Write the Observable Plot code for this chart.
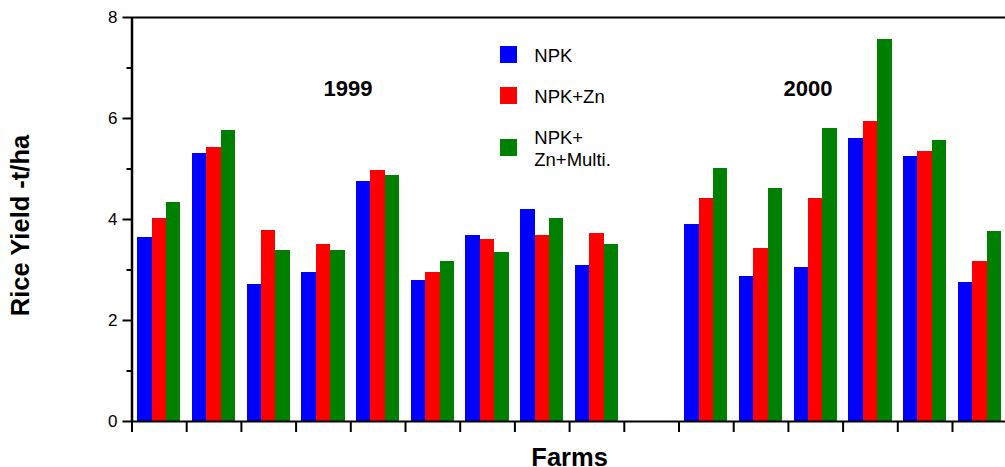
<!DOCTYPE html>
<html>
<head>
<meta charset="utf-8">
<script src="https://cdn.jsdelivr.net/npm/d3@7"></script>
<script src="https://cdn.jsdelivr.net/npm/@observablehq/plot@0.6"></script>
<style>
  html, body { margin: 0; padding: 0; background: #fff; overflow: hidden; }
  #chart { position: relative; width: 1005px; height: 467px; }
  #chart svg { display: block; }
  .legend {
    position: absolute; left: 500px; top: 43.2px;
    display: flex; flex-direction: column; gap: 18.4px;
    font-family: "Liberation Sans", Arial, sans-serif; font-size: 18.5px; color: #000;
  }
  .legend .row { display: flex; align-items: center; }
  .legend .sw { width: 16.7px; height: 16.7px; margin-right: 17.6px; flex: none; }
  .legend .lab { line-height: 22.5px; white-space: pre-line; position: relative; top: 1.7px; }
</style>
</head>
<body>
<div id="chart"></div>
<script>
// Treatments (legend order) and their fill colours
const series = ["NPK", "NPK+Zn", "NPK+\nZn+Multi."];
const seriesColors = ["#0000ff", "#ff0000", "#008000"];

// Farms surveyed in each season
const farms1999 = ["F1", "F2", "F3", "F4", "F5", "F6", "F7", "F8", "F9"];
const farms2000 = ["F1", "F2", "F3", "F4", "F5", "F6"];

// Rice yield (t/ha) per farm, 1999 season
const npk1999        = [3.64, 5.31, 2.71, 2.95, 4.75, 2.79, 3.68, 4.20, 3.09];
const npkZn1999      = [4.02, 5.43, 3.78, 3.50, 4.97, 2.95, 3.60, 3.68, 3.72];
const npkZnMulti1999 = [4.34, 5.76, 3.39, 3.39, 4.87, 3.17, 3.35, 4.02, 3.50];

// Rice yield (t/ha) per farm, 2000 season
const npk2000        = [3.90, 2.87, 3.05, 5.60, 5.25, 2.75];
const npkZn2000      = [4.42, 3.43, 4.42, 5.94, 5.35, 3.17];
const npkZnMulti2000 = [5.01, 4.61, 5.80, 7.56, 5.56, 3.76];

// Axis ticks
const yTicks = [0, 2, 4, 6, 8];
const yMinorTicks = [1, 3, 5, 7];

// Season headings
const years = ["1999", "2000"];

// One slot per farm along x, with an empty slot separating the two seasons
const slotCount = farms1999.length + 1 + farms2000.length;
const rows = [];
function addSeason(year, farms, valuesBySeries, firstSlot) {
  farms.forEach((farm, i) => {
    valuesBySeries.forEach((values, k) => {
      rows.push({year, farm, slot: firstSlot + i, k, series: series[k], value: values[i]});
    });
  });
}
addSeason(years[0], farms1999, [npk1999, npkZn1999, npkZnMulti1999], 0);
addSeason(years[1], farms2000, [npk2000, npkZn2000, npkZnMulti2000], farms1999.length + 1);

// Three adjacent bars per farm slot, with a little space on either side
const pad = 0.105;
const barW = (1 - 2 * pad) / 3;

// Season headings placed in data space above their farms
const yearLabels = [
  {x: 3.95, y: 6.58, text: years[0]},
  {x: 12.36, y: 6.58, text: years[1]}
];

const font = "'Liberation Sans', Arial, Helvetica, sans-serif";

const chart = Plot.plot({
  width: 1005,
  height: 467,
  marginTop: 17,
  marginBottom: 46,
  marginLeft: 131.5,
  marginRight: -1.7,
  x: {domain: [0, slotCount], axis: null},
  y: {domain: [0, 8], axis: null},
  color: {domain: series, range: seriesColors},
  style: {fontFamily: font, fontSize: "16px", color: "#000", background: "#fff", overflow: "hidden"},
  marks: [
    Plot.rectY(rows, {
      x1: d => d.slot + pad + d.k * barW,
      x2: d => d.slot + pad + (d.k + 1) * barW,
      y1: 0,
      y2: "value",
      fill: "series",
      shapeRendering: "crispEdges"
    }),
    // frame lines: baseline, top edge and left axis
    Plot.ruleY([0], {stroke: "#000", strokeWidth: 2}),
    Plot.ruleY([8], {stroke: "#000", strokeWidth: 2}),
    Plot.ruleX([0], {stroke: "#000", strokeWidth: 2.5}),
    // y axis: major and minor tick marks, with the major values as labels
    Plot.axisY({ticks: yTicks, tickSize: 9, strokeWidth: 2, label: null, tickFormat: () => ""}),
    Plot.axisY({ticks: yMinorTicks, tickSize: 5, strokeWidth: 2, label: null, tickFormat: () => ""}),
    Plot.text(yTicks, {y: d => d, text: d => String(d), frameAnchor: "left", textAnchor: "end", lineAnchor: "middle", dx: -14.5, fontSize: 17}),
    // x ticks between farms
    Plot.axisX({ticks: d3.range(0, slotCount + 1), tickSize: 11, strokeWidth: 2, label: null, tickFormat: () => ""}),
    // axis titles
    Plot.text(["Rice Yield -t/ha"], {text: d => d, frameAnchor: "left", textAnchor: "middle", lineAnchor: "middle", rotate: -90, dx: -111, dy: 6, fontSize: 25.5, fontWeight: "bold"}),
    Plot.text(["Farms"], {text: d => d, frameAnchor: "bottom", lineAnchor: "top", dy: 26.5, fontSize: 25.5, fontWeight: "bold"}),
    // season headings
    Plot.text(yearLabels, {x: "x", y: "y", text: "text", fontSize: 22, fontWeight: "bold"})
  ]
});

const container = document.getElementById("chart");
container.appendChild(chart);

// Legend drawn over the plot area
const legend = document.createElement("div");
legend.className = "legend";
series.forEach((name, i) => {
  const row = document.createElement("div");
  row.className = "row";
  const sw = document.createElement("span");
  sw.className = "sw";
  sw.style.background = seriesColors[i];
  const lab = document.createElement("span");
  lab.className = "lab";
  lab.textContent = name;
  row.appendChild(sw);
  row.appendChild(lab);
  legend.appendChild(row);
});
container.appendChild(legend);
</script>
</body>
</html>
